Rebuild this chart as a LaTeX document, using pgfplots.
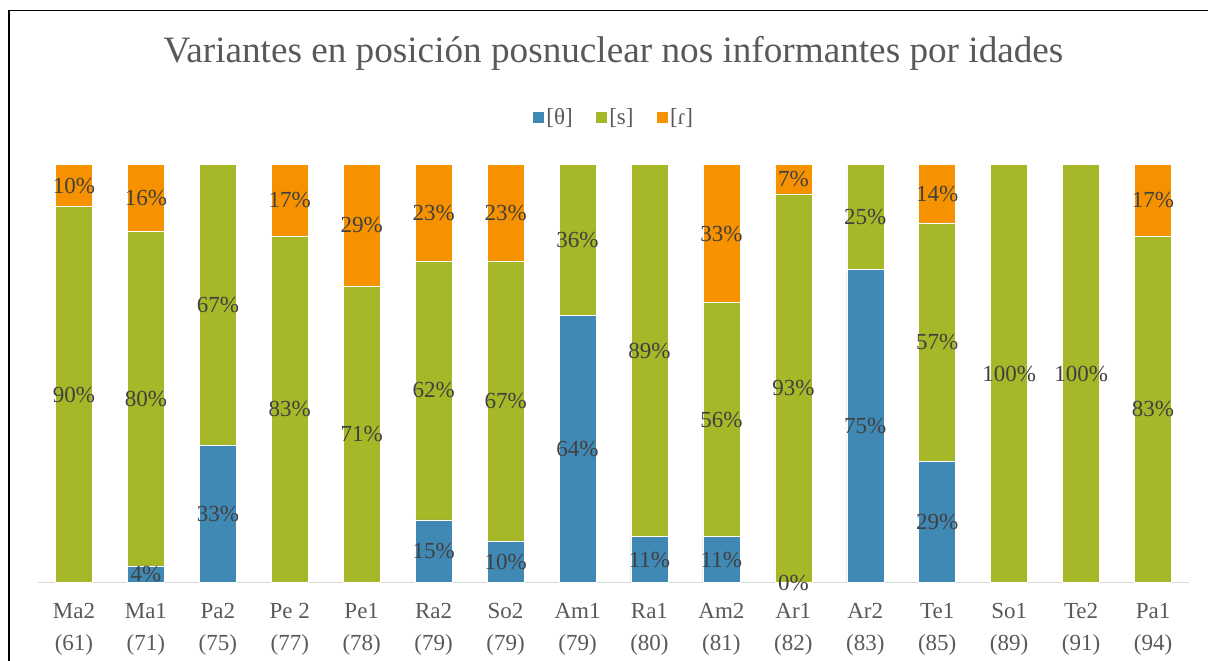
\documentclass[border=0pt]{standalone}
\usepackage{fontspec}
\setmainfont{Liberation Serif}
\usepackage{pgfplots}
\pgfplotsset{compat=1.18}

\definecolor{cth}{HTML}{4089B4}
\definecolor{cs}{HTML}{A6B828}
\definecolor{cr}{HTML}{F69200}
\definecolor{lblgray}{HTML}{404040}
\definecolor{tickgray}{HTML}{595959}
\definecolor{axgray}{HTML}{D9D9D9}

\newcommand\lbl{\fontsize{23}{32}\selectfont}
\newcommand\ttl{\fontsize{37.2}{40}\selectfont}

\pgfplotsset{
  base/.style={
    scale only axis, width=1151pt, height=418pt,
    xmin=-0.5, xmax=15.5, ymin=0, ymax=100,
  },
}

\begin{document}
\begin{tikzpicture}[x=1pt,y=1pt]
\useasboundingbox (-38,-78.3) rectangle (1170,582.7);
\draw[line width=1.4pt] (-29,-90) -- (-29,572) -- (1190,572);

\begin{axis}[base,
  ybar stacked, bar width=37pt,
  axis x line*=bottom, axis y line=none,
  x axis line style={axgray, line width=1pt, -},
  xtick={0,...,15}, major tick length=0pt,
  xticklabels={{Ma2\\(61)},{Ma1\\(71)},{Pa2\\(75)},{Pe 2\\(77)},{Pe1\\(78)},
    {Ra2\\(79)},{So2\\(79)},{Am1\\(79)},{Ra1\\(80)},{Am2\\(81)},{Ar1\\(82)},
    {Ar2\\(83)},{Te1\\(85)},{So1\\(89)},{Te2\\(91)},{Pa1\\(94)}},
  xticklabel style={align=center, font=\lbl, text=tickgray, anchor=north,
    inner sep=0pt, yshift=-20pt},
  title={Variantes en posición posnuclear nos informantes por idades},
  title style={at={(0.5,1)}, anchor=base, yshift=96pt, font=\ttl,
    text=tickgray},
  legend style={at={(0.5,1)}, anchor=center, yshift=47pt, draw=none,
    font=\lbl, text=tickgray, legend columns=-1,
    /tikz/every even column/.append style={column sep=20pt}},
  legend image code/.code={\fill[#1] (0pt,-6pt) rectangle (12pt,6pt);},
]
\addplot[fill=cth, draw=white, line width=0.5pt] coordinates {
  (0,0) (1,4) (2,33) (3,0) (4,0) (5,15) (6,10) (7,64)
  (8,11) (9,11) (10,0) (11,75) (12,29) (13,0) (14,0) (15,0)};
\addlegendentry{\relax[θ]}
\addplot[fill=cs, draw=white, line width=0.5pt] coordinates {
  (0,90) (1,80) (2,67) (3,83) (4,71) (5,62) (6,67) (7,36)
  (8,89) (9,56) (10,93) (11,25) (12,57) (13,100) (14,100) (15,83)};
\addlegendentry{\relax[s]}
\addplot[fill=cr, draw=white, line width=0.5pt] coordinates {
  (0,10) (1,16) (2,0) (3,17) (4,29) (5,23) (6,23) (7,0)
  (8,0) (9,33) (10,7) (11,0) (12,14) (13,0) (14,0) (15,17)};
\addlegendentry{\relax[ɾ]}
\end{axis}

\begin{axis}[base, hide axis]
\addplot[draw=none, nodes near coords, point meta=explicit symbolic,
  every node near coord/.style={anchor=center, font=\lbl, text=lblgray,
    inner sep=0pt}] coordinates {
  (0,45) [90\%] (0,95) [10\%]
  (1,2) [4\%] (1,44) [80\%] (1,92) [16\%]
  (2,16.5) [33\%] (2,66.5) [67\%]
  (3,41.5) [83\%] (3,91.5) [17\%]
  (4,35.5) [71\%] (4,85.5) [29\%]
  (5,7.5) [15\%] (5,46) [62\%] (5,88.5) [23\%]
  (6,5) [10\%] (6,43.5) [67\%] (6,88.5) [23\%]
  (7,32) [64\%] (7,82) [36\%]
  (8,5.5) [11\%] (8,55.5) [89\%]
  (9,5.5) [11\%] (9,39) [56\%] (9,83.5) [33\%]
  (10,0) [0\%] (10,46.5) [93\%] (10,96.5) [7\%]
  (11,37.5) [75\%] (11,87.5) [25\%]
  (12,14.5) [29\%] (12,57.5) [57\%] (12,93) [14\%]
  (13,50) [100\%]
  (14,50) [100\%]
  (15,41.5) [83\%] (15,91.5) [17\%]
};
\end{axis}
\end{tikzpicture}
\end{document}
